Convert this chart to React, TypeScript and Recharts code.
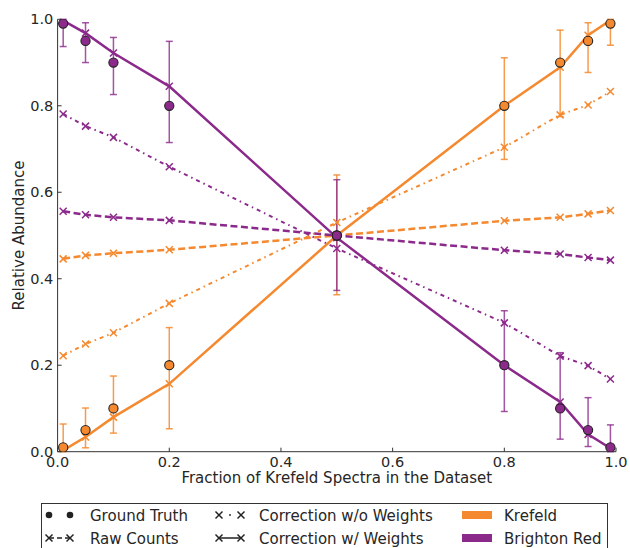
import React from 'react';
import { ComposedChart, Line, Scatter, XAxis, YAxis, ErrorBar } from 'recharts';

const fractions = [0.01, 0.05, 0.1, 0.2, 0.5, 0.8, 0.9, 0.95, 0.99];
const krefeldTruth = [0.01, 0.05, 0.1, 0.2, 0.5, 0.8, 0.9, 0.95, 0.99];
const brightonTruth = [0.99, 0.95, 0.9, 0.8, 0.5, 0.2, 0.1, 0.05, 0.01];
const krefeldRaw = [0.446, 0.454, 0.459, 0.467, 0.5, 0.534, 0.542, 0.55, 0.558];
const brightonRaw = [0.556, 0.548, 0.542, 0.535, 0.5, 0.466, 0.457, 0.449, 0.443];
const krefeldNoW = [0.222, 0.249, 0.275, 0.343, 0.53, 0.704, 0.779, 0.802, 0.833];
const brightonNoW = [0.781, 0.753, 0.727, 0.659, 0.47, 0.298, 0.221, 0.199, 0.168];
const krefeldW = [0.003, 0.034, 0.08, 0.157, 0.5, 0.8, 0.889, 0.963, 0.998];
const brightonW = [0.997, 0.968, 0.922, 0.845, 0.495, 0.2, 0.115, 0.04, 0.008];
const krefeldWLow = [0, 0.009, 0.043, 0.053, 0.363, 0.676, 0.775, 0.877, 0.94];
const krefeldWHigh = [0.064, 0.101, 0.175, 0.287, 0.64, 0.911, 0.975, 0.992, 1.0];
const brightonWLow = [0.937, 0.9, 0.826, 0.715, 0.373, 0.093, 0.029, 0.012, 0];
const brightonWHigh = [1.0, 0.992, 0.958, 0.949, 0.629, 0.326, 0.229, 0.125, 0.062];
const axisTicks = [0, 0.2, 0.4, 0.6, 0.8, 1.0];

const ORANGE = '#F5892F';
const PURPLE = '#8C2A8C';
const TEXT = '#262626';
const AXIS = '#333333';
const FONT = "'DejaVu Sans', sans-serif";

const data = fractions.map((x, i) => ({
  x,
  kTruth: krefeldTruth[i],
  bTruth: brightonTruth[i],
  kRaw: krefeldRaw[i],
  bRaw: brightonRaw[i],
  kNoW: krefeldNoW[i],
  bNoW: brightonNoW[i],
  kW: krefeldW[i],
  bW: brightonW[i],
  kErr: [Math.max(0, krefeldW[i] - krefeldWLow[i]), Math.max(0, krefeldWHigh[i] - krefeldW[i])],
  bErr: [Math.max(0, brightonW[i] - brightonWLow[i]), Math.max(0, brightonWHigh[i] - brightonW[i])],
}));

const makeX = (color: string) => (p: any) => {
  const { cx, cy, index } = p;
  if (cx == null || cy == null) return <g key={`n-${index}`} />;
  const s = 3.5;
  return (
    <g key={`x-${color}-${index}`}>
      <line x1={cx - s} y1={cy - s} x2={cx + s} y2={cy + s} stroke={color} strokeWidth={1.5} />
      <line x1={cx - s} y1={cy + s} x2={cx + s} y2={cy - s} stroke={color} strokeWidth={1.5} />
    </g>
  );
};

const makeCircle = (color: string) => (p: any) => {
  const { cx, cy } = p;
  return <circle cx={cx} cy={cy} r={4.6} fill={color} stroke="#222" strokeWidth={1.1} />;
};

const fmt = (v: number) => v.toFixed(1);

const LegendX = ({ cx, cy, color = '#222' }: any) => (
  <g>
    <line x1={cx - 3.5} y1={cy - 3.5} x2={cx + 3.5} y2={cy + 3.5} stroke={color} strokeWidth={1.5} />
    <line x1={cx - 3.5} y1={cy + 3.5} x2={cx + 3.5} y2={cy - 3.5} stroke={color} strokeWidth={1.5} />
  </g>
);

const legendText = { fontFamily: FONT, fontSize: 15, fill: TEXT } as const;

const ChartLegend = () => {
  const r1 = 20;
  const r2 = 43;
  return (
    <svg
      width={630}
      height={53}
      style={{ position: 'absolute', left: 0, top: 495, pointerEvents: 'none' }}
    >
      <rect x={41.5} y={8.5} width={566} height={60} fill="#fff" stroke={AXIS} strokeWidth={1} />
      <circle cx={49} cy={r1} r={3.3} fill="#222" />
      <circle cx={70} cy={r1} r={3.3} fill="#222" />
      <text x={90} y={r1 + 5.5} {...legendText}>Ground Truth</text>
      <LegendX cx={49} cy={r2} />
      <line x1={49} y1={r2} x2={70} y2={r2} stroke="#222" strokeWidth={1.5} strokeDasharray="5 3" />
      <LegendX cx={70} cy={r2} />
      <text x={90} y={r2 + 5.5} {...legendText}>Raw Counts</text>
      <LegendX cx={219} cy={r1} />
      <circle cx={230} cy={r1} r={0.9} fill="#222" />
      <LegendX cx={241} cy={r1} />
      <text x={259} y={r1 + 5.5} {...legendText}>Correction w/o Weights</text>
      <LegendX cx={219} cy={r2} />
      <line x1={219} y1={r2} x2={241} y2={r2} stroke="#222" strokeWidth={1.5} />
      <LegendX cx={241} cy={r2} />
      <text x={259} y={r2 + 5.5} {...legendText}>Correction w/ Weights</text>
      <rect x={462} y={r1 - 4} width={30} height={8} fill={ORANGE} />
      <text x={504} y={r1 + 5.5} {...legendText}>Krefeld</text>
      <rect x={462} y={r2 - 4} width={30} height={8} fill={PURPLE} />
      <text x={504} y={r2 + 5.5} {...legendText}>Brighton Red</text>
    </svg>
  );
};

export default function App() {
  return (
    <div style={{ position: 'absolute', left: 0, top: 0, width: 630, height: 548, background: '#fff', fontFamily: FONT, overflow: 'hidden' }}>
      <ComposedChart
        width={630}
        height={548}
        data={data}
        margin={{ top: 19.3, right: 14, bottom: 0, left: 0 }}
      >
        <XAxis
          dataKey="x"
          type="number"
          domain={[0, 1]}
          ticks={axisTicks}
          tickFormatter={fmt}
          allowDataOverflow
          height={96.3}
          tickSize={-4}
          tickMargin={9.5}
          stroke={AXIS}
          tick={{ fill: TEXT, fontSize: 14.5, fontFamily: FONT }}
          label={{ value: 'Fraction of Krefeld Spectra in the Dataset', position: 'insideTop', offset: 21, fill: TEXT, fontSize: 15, fontFamily: FONT }}
        />
        <XAxis
          xAxisId="top"
          orientation="top"
          type="number"
          domain={[0, 1]}
          ticks={axisTicks}
          allowDataOverflow
          height={0}
          tickSize={-4}
          tick={false}
          stroke={AXIS}
        />
        <YAxis
          type="number"
          domain={[0, 1]}
          ticks={axisTicks}
          tickFormatter={fmt}
          allowDataOverflow
          width={57.6}
          tickSize={-4}
          tickMargin={8.3}
          stroke={AXIS}
          tick={{ fill: TEXT, fontSize: 14.5, fontFamily: FONT }}
          label={{ value: 'Relative Abundance', angle: -90, position: 'insideLeft', offset: 19, fill: TEXT, fontSize: 15, fontFamily: FONT, style: { textAnchor: 'middle' } }}
        />
        <YAxis
          yAxisId="right"
          orientation="right"
          type="number"
          domain={[0, 1]}
          ticks={axisTicks}
          allowDataOverflow
          width={0}
          tickSize={-4}
          tick={false}
          stroke={AXIS}
        />
        <Line dataKey="kRaw" stroke={ORANGE} strokeWidth={2.5} strokeDasharray="7 3.5" dot={makeX(ORANGE)} isAnimationActive={false} />
        <Line dataKey="bRaw" stroke={PURPLE} strokeWidth={2.5} strokeDasharray="7 3.5" dot={makeX(PURPLE)} isAnimationActive={false} />
        <Line dataKey="kNoW" stroke={ORANGE} strokeWidth={2} strokeDasharray="4 4 1.5 4" dot={makeX(ORANGE)} isAnimationActive={false} />
        <Line dataKey="bNoW" stroke={PURPLE} strokeWidth={2} strokeDasharray="4 4 1.5 4" dot={makeX(PURPLE)} isAnimationActive={false} />
        <Line dataKey="kW" stroke={ORANGE} strokeWidth={2.5} dot={makeX(ORANGE)} isAnimationActive={false}>
          <ErrorBar dataKey="kErr" direction="y" width={3.5} stroke={ORANGE} strokeWidth={1.5} strokeOpacity={0.85} />
        </Line>
        <Line dataKey="bW" stroke={PURPLE} strokeWidth={2.5} dot={makeX(PURPLE)} isAnimationActive={false}>
          <ErrorBar dataKey="bErr" direction="y" width={3.5} stroke={PURPLE} strokeWidth={1.5} strokeOpacity={0.8} />
        </Line>
        <Scatter dataKey="kTruth" shape={makeCircle(ORANGE)} isAnimationActive={false} />
        <Scatter dataKey="bTruth" shape={makeCircle(PURPLE)} isAnimationActive={false} />
      </ComposedChart>
      <ChartLegend />
    </div>
  );
}
